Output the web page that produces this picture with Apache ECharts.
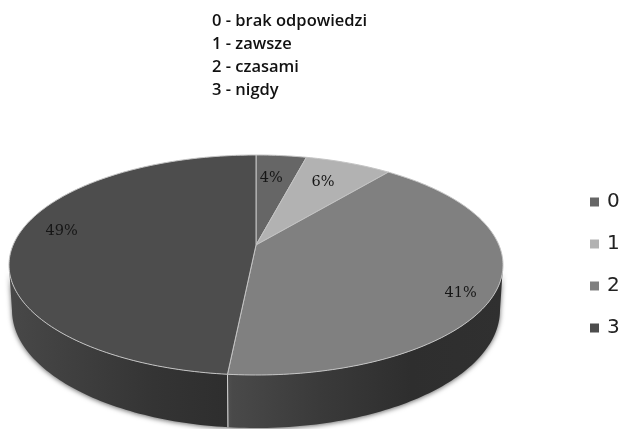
<!DOCTYPE html>
<html><head><meta charset="utf-8">
<style>html,body{margin:0;padding:0;background:#fff;overflow:hidden}#c{width:620px;height:429px;filter:blur(0.35px)}</style>
<script src="https://cdn.jsdelivr.net/npm/echarts@6/dist/echarts.min.js"></script>
</head><body><div id="c"></div>
<script>
const categories = ['0', '1', '2', '3'];
const shares = [3.6, 6.4, 41.4, 48.6];
const noteLines = ['0 - brak odpowiedzi', '1 - zawsze', '2 - czasami', '3 - nigdy'];

const colors = ['#666666', '#b2b2b2', '#808080', '#4d4d4d'];
const wallStops = [
  ['#555555', '#555555'], ['#777777', '#777777'],
  ['#4a4a4a', '#3a3a3a', '#2e2e2e', '#303030'], ['#484848', '#3e3e3e', '#343434', '#2e2e2e']
];
const labelReach = [0.76, 0.72, 0.85, 0.79];
const labelNudge = [[-4, 1], [0, -4], [-3, 17], [-4, -10]];
const geo = { cx: 256, cy: 265, rx: 247, ry: 110, apexX: 256, apexY: 245, tilt: 0.40,
              bx: 256, by: 310, brx: 244, bry: 118 };
const total = shares.reduce((a, b) => a + b, 0);
const starts = shares.map((_, i) => shares.slice(0, i).reduce((a, b) => a + b, 0));

function rim(theta) {
  const dx = Math.sin(theta), dy = -Math.cos(theta) * geo.tilt;
  const ox = (geo.apexX - geo.cx) / geo.rx, oy = (geo.apexY - geo.cy) / geo.ry;
  const ax = dx / geo.rx, ay = dy / geo.ry;
  const A = ax * ax + ay * ay, B = 2 * (ox * ax + oy * ay), C = ox * ox + oy * oy - 1;
  const s = (-B + Math.sqrt(B * B - 4 * A * C)) / (2 * A);
  return { x: geo.apexX + dx * s, y: geo.apexY + dy * s };
}
function angleRange(i, value) {
  return [starts[i] / total * 2 * Math.PI, (starts[i] + value) / total * 2 * Math.PI];
}
function samples(a, b) {
  const n = Math.max(2, Math.ceil((b - a) / (Math.PI / 180)));
  const out = [];
  for (let k = 0; k <= n; k++) out.push(rim(a + (b - a) * k / n));
  return out;
}
function lower(p) {
  const t = Math.atan2((p.y - geo.cy) / geo.ry, (p.x - geo.cx) / geo.rx);
  return [geo.bx + geo.brx * Math.cos(t), geo.by + geo.bry * Math.sin(t)];
}
function renderWall(params, api) {
  const i = params.dataIndex;
  const [a, b] = angleRange(i, api.value(0));
  const front = samples(a, b).filter(p => p.y >= geo.cy);
  if (front.length < 2) return { type: 'group', children: [] };
  const upper = front.map(p => [p.x, p.y]);
  const low = front.map(lower);
  const stops = wallStops[i];
  const children = [{
    type: 'polygon',
    shape: { points: upper.concat(low.slice().reverse()) },
    style: {
      fill: { type: 'linear', x: 0, y: 0, x2: 1, y2: 0,
        colorStops: stops.map((c, k) => ({ offset: k / (stops.length - 1), color: c })) },
      shadowBlur: 5, shadowColor: 'rgba(90,90,90,0.9)', shadowOffsetY: 1
    }
  }];
  const first = front[0], last = front[front.length - 1];
  const edge = i === 3 ? first : last;
  const e2 = lower(edge);
  children.push({ type: 'line', shape: { x1: edge.x, y1: edge.y, x2: e2[0], y2: e2[1] },
    style: { stroke: '#d0d0d0', lineWidth: 1 } });
  return { type: 'group', children };
}
function renderSlice(i) {
  return function (params, api) {
    const [a, b] = angleRange(i, api.value(0));
    const arc = samples(a, b).map(p => [p.x, p.y]);
    const mid = rim((a + b) / 2);
    const r = labelReach[i];
    return {
      type: 'group',
      children: [{
        type: 'polygon',
        shape: { points: [[geo.apexX, geo.apexY]].concat(arc) },
        style: { fill: colors[i], stroke: '#c4c4c4', lineWidth: 1 }
      }, {
        type: 'text',
        style: {
          x: geo.apexX + (mid.x - geo.apexX) * r + labelNudge[i][0],
          y: geo.apexY + (mid.y - geo.apexY) * r + labelNudge[i][1],
          text: Math.round(api.value(0)) + '%',
          fill: '#161616', font: '14.5px "DejaVu Serif"', align: 'center', verticalAlign: 'middle'
        }
      }]
    };
  };
}
const chart = echarts.init(document.getElementById('c'), null, { renderer: 'canvas' });
chart.setOption({
  animation: false,
  backgroundColor: '#fff',
  title: {
    text: noteLines.join('\n'), left: 207, top: 5,
    textStyle: { fontFamily: 'Open Sans', fontSize: 16.5, fontWeight: 600, color: '#111', lineHeight: 23 }
  },
  legend: {
    orient: 'vertical', left: 585, top: 187, data: categories, icon: 'rect',
    itemWidth: 9, itemHeight: 9, itemGap: 22, selectedMode: false,
    textStyle: { fontFamily: 'DejaVu Sans', fontSize: 20, color: '#222', padding: [0, 0, 0, 3] }
  },
  series: [{
    type: 'custom', name: 'walls', coordinateSystem: 'none', z: 1, silent: true,
    data: shares.map(v => [v]), renderItem: renderWall
  }].concat(categories.map((name, i) => ({
    type: 'custom', name, coordinateSystem: 'none', z: 2, silent: true,
    itemStyle: { color: colors[i] },
    data: [[shares[i]]], renderItem: renderSlice(i)
  })))
});
</script></body></html>
